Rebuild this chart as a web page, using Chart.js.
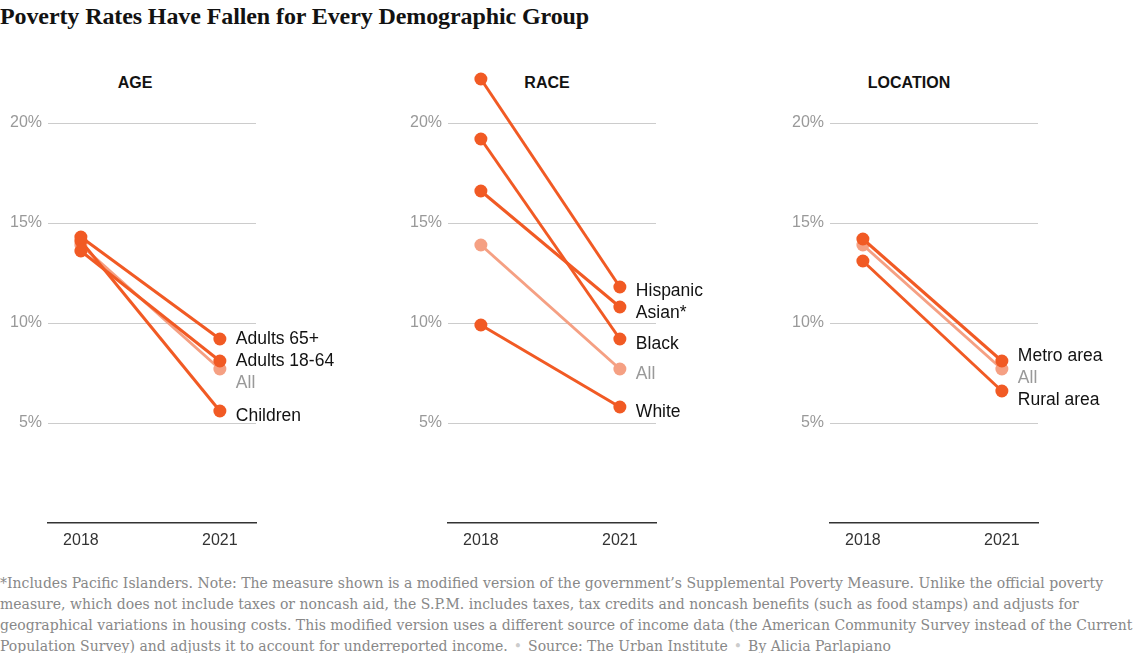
<!DOCTYPE html>
<html>
<head>
<meta charset="utf-8">
<script src="https://cdn.jsdelivr.net/npm/chart.js@4"></script>
<style>
  body { margin: 0; width: 1134px; height: 653px; overflow: hidden; background: #fff; position: relative; }
  h1 { position: absolute; left: 0; top: 3px; margin: 0; font: bold 24px "Liberation Serif", serif; color: #121212; letter-spacing: -0.1px; }
  canvas { position: absolute; top: 0; }
  .ptitle { position: absolute; top: 74px; font: bold 16px "Liberation Sans", Arial, sans-serif; color: #121212; transform: translateX(-50%); }
  .note { position: absolute; left: 0; top: 573px; font: 14px "DejaVu Serif", serif; color: #888; line-height: 21px; white-space: nowrap; }
  .dot { color: #ccc; margin: 0 6px; }
</style>
</head>
<body>
<h1>Poverty Rates Have Fallen for Every Demographic Group</h1>
<div class="ptitle" style="left:135px">AGE</div>
<div class="ptitle" style="left:547px">RACE</div>
<div class="ptitle" style="left:909px">LOCATION</div>
<canvas id="ageChart" width="352" height="560" style="left:0px"></canvas>
<canvas id="raceChart" width="352" height="560" style="left:400px"></canvas>
<canvas id="locChart" width="352" height="560" style="left:782px"></canvas>
<div class="note">
*Includes Pacific Islanders. Note: The measure shown is a modified version of the government’s Supplemental Poverty Measure. Unlike the official poverty<br>
measure, which does not include taxes or noncash aid, the S.P.M. includes taxes, tax credits and noncash benefits (such as food stamps) and adjusts for<br>
geographical variations in housing costs. This modified version uses a different source of income data (the American Community Survey instead of the Current<br>
Population Survey) and adjusts it to account for underreported income.<span class="dot">•</span>Source: The Urban Institute<span class="dot">•</span>By Alicia Parlapiano
</div>
<script>
const years = [2018, 2021];
const yTicks = [5, 10, 15, 20];

const ageGroups = ["Adults 65+", "Adults 18-64", "Children", "All"];
const age2018 = [14.3, 13.6, 14.1, 13.9];
const age2021 = [9.2, 8.1, 5.6, 7.7];

const raceGroups = ["Hispanic", "Asian*", "Black", "White", "All"];
const race2018 = [22.2, 16.6, 19.2, 9.9, 13.9];
const race2021 = [11.8, 10.8, 9.2, 5.8, 7.7];

const locGroups = ["Metro area", "Rural area", "All"];
const loc2018 = [14.2, 13.1, 13.9];
const loc2021 = [8.1, 6.6, 7.7];

const ORANGE = "#f15a24";
const LIGHT = "#f5a083";

const endLabels = {
  id: "endLabels",
  afterDatasetsDraw(chart) {
    const ctx = chart.ctx;
    const items = chart.data.datasets.map((ds, i) => {
      const pt = chart.getDatasetMeta(i).data[1];
      return { text: ds.label, x: pt.x + 16, y: pt.y + 5, color: ds.label === "All" ? "#999" : "#121212" };
    });
    items.sort((a, b) => a.y - b.y);
    const gap = 22;
    for (let k = 0; k < 60; k++) {
      let moved = false;
      for (let i = 1; i < items.length; i++) {
        const d = items[i].y - items[i - 1].y;
        if (d < gap - 0.01) {
          const s = (gap - d) / 2;
          items[i - 1].y -= s;
          items[i].y += s;
          moved = true;
        }
      }
      if (!moved) break;
    }
    ctx.save();
    ctx.font = '17.5px "Liberation Sans", Arial, sans-serif';
    ctx.textBaseline = "middle";
    ctx.textAlign = "left";
    items.forEach(it => {
      ctx.fillStyle = it.color;
      ctx.fillText(it.text, it.x, it.y);
    });
    ctx.restore();
  }
};

function makeChart(id, groups, start, end) {
  const datasets = groups.map((g, i) => {
    const col = g === "All" ? LIGHT : ORANGE;
    return {
      label: g,
      data: [{ x: years[0], y: start[i] }, { x: years[1], y: end[i] }],
      borderColor: col,
      backgroundColor: col,
      pointBackgroundColor: col,
      pointBorderWidth: 0,
      pointRadius: 6.5,
      borderWidth: 3,
      order: g === "All" ? 1 : 0
    };
  });
  new Chart(document.getElementById(id), {
    type: "line",
    data: { datasets: datasets },
    options: {
      responsive: false,
      animation: false,
      layout: { padding: { top: 63, bottom: 7, left: 0, right: 96 } },
      plugins: { legend: { display: false }, tooltip: { enabled: false } },
      scales: {
        x: {
          type: "linear",
          min: 2017.29,
          max: 2021.78,
          afterBuildTicks: s => { s.ticks = years.map(v => ({ value: v })); },
          afterFit: s => { s.height = 30; },
          ticks: { color: "#333", font: { size: 16, family: '"Liberation Sans", Arial, sans-serif' }, padding: 8, callback: v => String(v) },
          grid: { color: "rgba(0,0,0,0)", drawTicks: false },
          border: { display: true, color: "#333", width: 1.5 }
        },
        y: {
          min: 0,
          max: 23,
          afterBuildTicks: s => { s.ticks = yTicks.map(v => ({ value: v })); },
          afterFit: s => { s.width = 48; },
          ticks: { color: "#999", font: { size: 16, family: '"Liberation Sans", Arial, sans-serif' }, padding: 6, callback: v => v + "%" },
          grid: { color: "#ccc", drawTicks: false, lineWidth: 1 },
          border: { display: false }
        }
      }
    },
    plugins: [endLabels]
  });
}

makeChart("ageChart", ageGroups, age2018, age2021);
makeChart("raceChart", raceGroups, race2018, race2021);
makeChart("locChart", locGroups, loc2018, loc2021);
</script>
</body>
</html>
